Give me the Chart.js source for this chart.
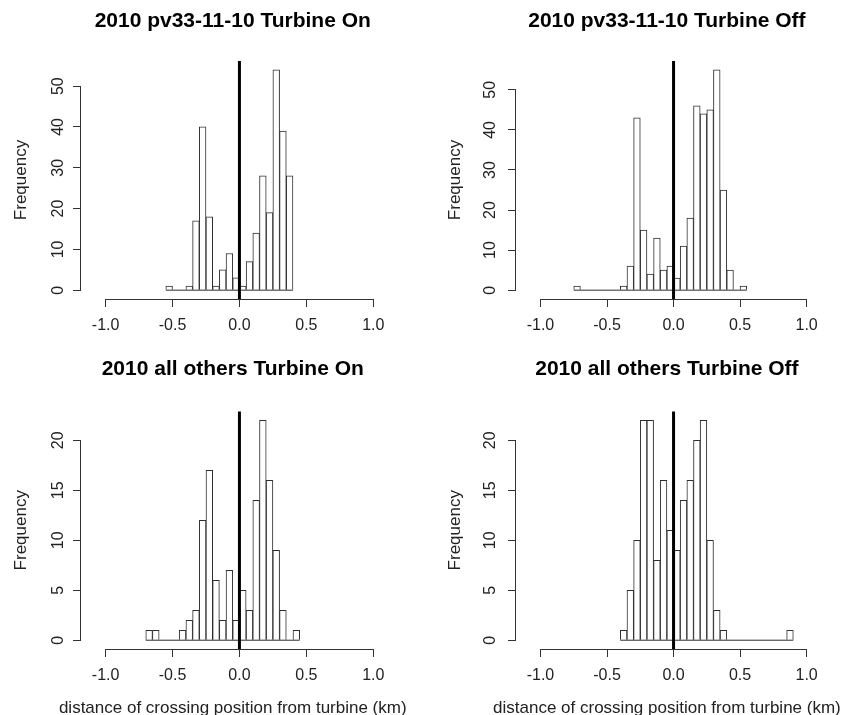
<!DOCTYPE html>
<html>
<head>
<meta charset="utf-8">
<script src="https://cdn.jsdelivr.net/npm/chart.js@4.4.1/dist/chart.umd.min.js"></script>
<style>
  html, body { margin: 0; padding: 0; background: #ffffff; }
  #wrap { position: relative; width: 853px; height: 715px; overflow: hidden; background: #ffffff; }
  canvas { position: absolute; }
</style>
</head>
<body>
<div id="wrap">
  <canvas id="c1" width="430" height="350" style="left:0px;top:0px;width:430px;height:350px"></canvas>
  <canvas id="c2" width="423" height="350" style="left:430px;top:0px;width:423px;height:350px"></canvas>
  <canvas id="c3" width="430" height="370" style="left:0px;top:350px;width:430px;height:370px"></canvas>
  <canvas id="c4" width="423" height="370" style="left:430px;top:350px;width:423px;height:370px"></canvas>
</div>
<script>
// ---------------- data ----------------
const binWidth = 0.05;

const p1Title = "2010 pv33-11-10 Turbine On";
const p1FirstBreak = -0.55;
const p1Counts = [1, 0, 0, 1, 17, 40, 18, 1, 5, 9, 3, 1, 7, 14, 28, 19, 54, 39, 28];

const p2Title = "2010 pv33-11-10 Turbine Off";
const p2FirstBreak = -0.75;
const p2Counts = [1, 0, 0, 0, 0, 0, 0, 1, 6, 43, 15, 4, 13, 5, 6, 3, 11, 18, 46, 44, 45, 55, 25, 5, 0, 1];

const p3Title = "2010 all others Turbine On";
const p3FirstBreak = -0.70;
const p3Counts = [1, 1, 0, 0, 0, 1, 2, 3, 12, 17, 6, 2, 7, 2, 5, 3, 14, 22, 16, 9, 3, 0, 1];

const p4Title = "2010 all others Turbine Off";
const p4FirstBreak = -0.40;
const p4Counts = [1, 5, 10, 22, 22, 8, 16, 11, 9, 14, 16, 20, 22, 10, 3, 1, 0, 0, 0, 0, 0, 0, 0, 0, 0, 1];

const xTicks = [-1.0, -0.5, 0.0, 0.5, 1.0];
const yTicksTop = [0, 10, 20, 30, 40, 50];
const yTicksBottom = [0, 5, 10, 15, 20];
const xLimits = [-1.1, 1.0];
const refLine = 0;
const xLabel = "distance of crossing position from turbine (km)";
const yLabel = "Frequency";

// ---------------- drawing ----------------
const FONT = "'Liberation Sans', Arial, Helvetica, sans-serif";
const AXIS_COLOR = '#333333';
const BAR_COLOR = '#2e2e2e';

const rAxesPlugin = {
  id: 'rAxes',
  afterDatasetsDraw(chart) {
    const { ctx, chartArea: a, scales: { x } } = chart;
    const xp = x.getPixelForValue(refLine);
    ctx.save();
    ctx.strokeStyle = '#000000';
    ctx.lineWidth = 3;
    ctx.beginPath();
    ctx.moveTo(xp, a.top);
    ctx.lineTo(xp, a.bottom);
    ctx.stroke();
    ctx.restore();
  },
  afterDraw(chart, args, opts) {
    const { ctx, chartArea: a, scales: { x, y } } = chart;
    const xt = x.ticks.map(t => t.value);
    const yt = y.ticks.map(t => t.value);
    ctx.save();
    ctx.strokeStyle = AXIS_COLOR;
    ctx.lineWidth = 1;
    ctx.beginPath();
    const by = Math.round(a.bottom) + 0.5;
    ctx.moveTo(x.getPixelForValue(xt[0]), by);
    ctx.lineTo(x.getPixelForValue(xt[xt.length - 1]), by);
    const lx = Math.round(a.left) - 0.5;
    ctx.moveTo(lx, y.getPixelForValue(yt[0]));
    ctx.lineTo(lx, y.getPixelForValue(yt[yt.length - 1]));
    ctx.stroke();
    // x axis label (R-style, centred on the plot region, not width-limited)
    if (opts && opts.xText) {
      ctx.fillStyle = '#222222';
      ctx.font = '17px ' + FONT;
      ctx.textAlign = 'center';
      ctx.textBaseline = 'middle';
      ctx.fillText(opts.xText, (a.left + a.right) / 2, opts.xTextY);
    }
    ctx.restore();
  }
};

function makePanel(p) {
  const canvas = document.getElementById(p.id);
  const W = canvas.width, H = canvas.height;
  const mids = p.counts.map((_, i) => +(p.first + binWidth * (i + 0.5)).toFixed(4));
  const barData = p.counts.map((c, i) => ({ x: mids[i], y: c }));
  const lastBreak = +(p.first + binWidth * p.counts.length).toFixed(4);
  const ymax = Math.max(...p.counts);
  const xr = xLimits[1] - xLimits[0];
  const titleLH = 21 * 1.2;

  new Chart(canvas, {
    type: 'bar',
    data: {
      datasets: [
        {
          type: 'bar',
          data: barData,
          backgroundColor: '#ffffff',
          borderColor: BAR_COLOR,
          borderWidth: 1,
          barPercentage: 1,
          categoryPercentage: 1,
          order: 2
        },
        {
          type: 'line',
          data: [{ x: p.first, y: 0 }, { x: lastBreak, y: 0 }],
          borderColor: BAR_COLOR,
          borderWidth: 1,
          pointRadius: 0,
          fill: false,
          order: 1
        }
      ]
    },
    options: {
      responsive: false,
      animation: false,
      layout: { padding: { left: 0, right: W - p.right, top: 0, bottom: 0 } },
      plugins: {
        legend: { display: false },
        tooltip: { enabled: false },
        title: {
          display: true,
          text: p.title,
          fullSize: false,
          color: '#000000',
          font: { family: FONT, size: 21, weight: 'bold' },
          padding: { top: p.titleTop, bottom: p.top - p.titleTop - titleLH }
        },
        rAxes: p.showXLabel ? { xText: xLabel, xTextY: 358 } : {}
      },
      scales: {
        x: {
          type: 'linear',
          min: xLimits[0] - 0.04 * xr,
          max: xLimits[1] + 0.04 * xr,
          offset: false,
          afterBuildTicks: s => { s.ticks = xTicks.map(v => ({ value: v })); },
          afterFit: s => { s.height = H - p.bottom; },
          border: { display: false },
          grid: { display: true, drawOnChartArea: false, drawTicks: true, tickLength: 8, color: AXIS_COLOR, offset: false },
          ticks: {
            font: { family: FONT, size: 16 }, color: '#222222', padding: 8.5,
            maxRotation: 0, minRotation: 0, autoSkip: false,
            callback: v => Number(v).toFixed(1)
          },
          title: { display: false }
        },
        y: {
          type: 'linear',
          min: -0.04 * ymax,
          max: 1.04 * ymax,
          afterBuildTicks: s => { s.ticks = p.yTicks.map(v => ({ value: v })); },
          afterFit: s => { s.width = p.left; },
          border: { display: false },
          grid: { display: true, drawOnChartArea: false, drawTicks: true, tickLength: 8, color: AXIS_COLOR },
          ticks: {
            font: { family: FONT, size: 16 }, color: '#222222', padding: p.yTickPad,
            minRotation: 90, maxRotation: 90, crossAlign: 'center', autoSkip: false,
            callback: v => String(v)
          },
          title: {
            display: true, text: yLabel, color: '#222222',
            font: { family: FONT, size: 17 }, padding: { top: p.yTitlePad, bottom: 0 }
          }
        }
      }
    },
    plugins: [rAxesPlugin]
  });
}

makePanel({ id: 'c1', title: p1Title, first: p1FirstBreak, counts: p1Counts, yTicks: yTicksTop,
  left: 81, right: 384.5, top: 61, bottom: 299, titleTop: 9.1, yTickPad: 5.5, yTitlePad: 11.5, showXLabel: false });
makePanel({ id: 'c2', title: p2Title, first: p2FirstBreak, counts: p2Counts, yTicks: yTicksTop,
  left: 86, right: 387.8, top: 61, bottom: 299, titleTop: 9.1, yTickPad: 9, yTitlePad: 14.8, showXLabel: false });
makePanel({ id: 'c3', title: p3Title, first: p3FirstBreak, counts: p3Counts, yTicks: yTicksBottom,
  left: 81, right: 384.5, top: 61.5, bottom: 299, titleTop: 6.4, yTickPad: 5.5, yTitlePad: 11.5, showXLabel: true });
makePanel({ id: 'c4', title: p4Title, first: p4FirstBreak, counts: p4Counts, yTicks: yTicksBottom,
  left: 86, right: 387.8, top: 61.5, bottom: 299, titleTop: 6.4, yTickPad: 9, yTitlePad: 14.8, showXLabel: true });
</script>
</body>
</html>
